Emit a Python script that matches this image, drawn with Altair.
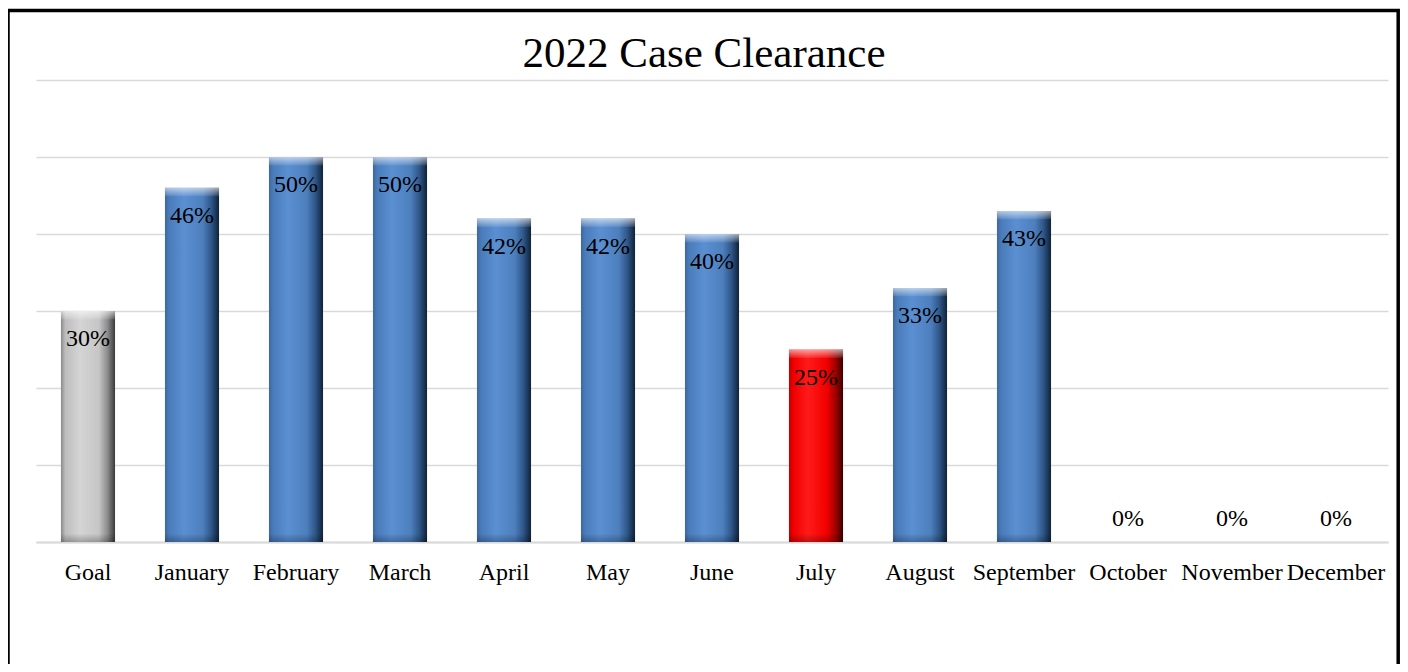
import altair as alt
import pandas as pd

categories = ["Goal", "January", "February", "March", "April", "May", "June",
              "July", "August", "September", "October", "November", "December"]
values = [30, 46, 50, 50, 42, 42, 40, 25, 33, 43, 0, 0, 0]
kinds = ["goal", "month", "month", "month", "month", "month", "month",
         "low", "month", "month", "month", "month", "month"]
title_text = "2022 Case Clearance"
y_ticks = [0, 10, 20, 30, 40, 50, 60]

df = pd.DataFrame({"cat": categories, "v": values, "kind": kinds})
df["label"] = [f"{v}%" for v in values]

FONT = "Liberation Serif"

def grad(stops, vertical=False):
    return alt.LinearGradient(
        gradient="linear",
        x1=0, y1=0,
        x2=0 if vertical else 1,
        y2=1 if vertical else 0,
        stops=[alt.GradientStop(offset=o, color=c) for o, c in stops],
    )

blue = grad([(0, "#3b68a3"), (0.08, "#4a7cba"), (0.35, "#5a8fd2"), (0.7, "#4d7fbd"),
             (0.86, "#2f5687"), (1, "#0f2238")])
grey = grad([(0, "#8a8a8a"), (0.08, "#bdbdbd"), (0.35, "#d4d4d4"), (0.7, "#c6c6c6"),
             (0.86, "#8c8c8c"), (1, "#3a3a3a")])
red = grad([(0, "#c00000"), (0.08, "#f00000"), (0.35, "#ff1a1a"), (0.7, "#f20000"),
            (0.86, "#a00000"), (1, "#3a0000")])

xenc = alt.X("cat:N", sort=categories,
             scale=alt.Scale(paddingInner=0.48, paddingOuter=0.24),
             axis=alt.Axis(title=None, labelAngle=0, ticks=False, tickSize=0,
                           labelFont=FONT, labelFontSize=24, labelColor="black",
                           labelBaseline="alphabetic", labelPadding=37,
                           domainColor="#d9d9d9", domainWidth=2, grid=False))
yscale = alt.Scale(domain=[0, 60], nice=False)
yenc = alt.Y("v:Q", scale=yscale,
             axis=alt.Axis(title=None, values=y_ticks, labels=False, ticks=False,
                           domain=False, grid=True, gridColor="#d9d9d9", gridWidth=1.5))

base = alt.Chart(df)

def bars(kind, fill):
    return base.transform_filter(alt.datum.kind == kind).mark_bar(
        fill=fill).encode(x=xenc, y=yenc)

bar_month = base.transform_filter((alt.datum.kind == "month") & (alt.datum.v > 0)).mark_bar(
    fill=blue).encode(x=xenc, y=yenc)
bar_goal = bars("goal", grey)
bar_low = bars("low", red)

top_bevel = base.transform_filter(alt.datum.v > 0).transform_calculate(
    v2="datum.v - 1.1").mark_bar(
    fill=grad([(0, "rgba(255,255,255,0.6)"), (1, "rgba(255,255,255,0.08)")], vertical=True)
).encode(x=alt.X("cat:N", sort=categories), y=alt.Y("v:Q", scale=yscale), y2="v2:Q")

bottom_bevel = base.transform_filter(alt.datum.v > 0).transform_calculate(
    v0="0", v1="1.1").mark_bar(
    fill=grad([(0, "rgba(0,0,0,0.0)"), (1, "rgba(0,0,0,0.25)")], vertical=True)
).encode(x=alt.X("cat:N", sort=categories), y=alt.Y("v1:Q", scale=yscale), y2="v0:Q")

labels_in = base.transform_filter(alt.datum.v > 0).mark_text(
    font=FONT, fontSize=24, color="black", baseline="alphabetic", dy=35
).encode(x=alt.X("cat:N", sort=categories), y=alt.Y("v:Q", scale=yscale), text="label:N")

labels_zero = base.transform_filter(alt.datum.v == 0).mark_text(
    font=FONT, fontSize=24, color="black", baseline="alphabetic", dy=-16
).encode(x=alt.X("cat:N", sort=categories), y=alt.Y("v:Q", scale=yscale), text="label:N")

title = alt.Chart(pd.DataFrame({"t": [title_text]})).mark_text(
    font=FONT, fontSize=43, color="black", baseline="alphabetic", align="center"
).encode(text="t:N", x=alt.value(668), y=alt.value(-13))

border = alt.Chart(pd.DataFrame({"b": [1]})).mark_rect(
    fill="transparent", stroke="black", strokeWidth=3.5
).encode(x=alt.value(-28), x2=alt.value(1362.2), y=alt.value(-69.5), y2=alt.value(700))

chart = alt.layer(
    bar_goal, bar_month, bar_low, top_bevel, bottom_bevel,
    labels_in, labels_zero, title, border
).properties(
    width=1352, height=462,
    padding={"left": 28, "top": 72, "right": 12, "bottom": 122},
    autosize=alt.AutoSizeParams(type="none"),
    background="white",
).configure_view(stroke=None)

chart.save("out.html", embed_options={"renderer": "svg", "actions": False})
